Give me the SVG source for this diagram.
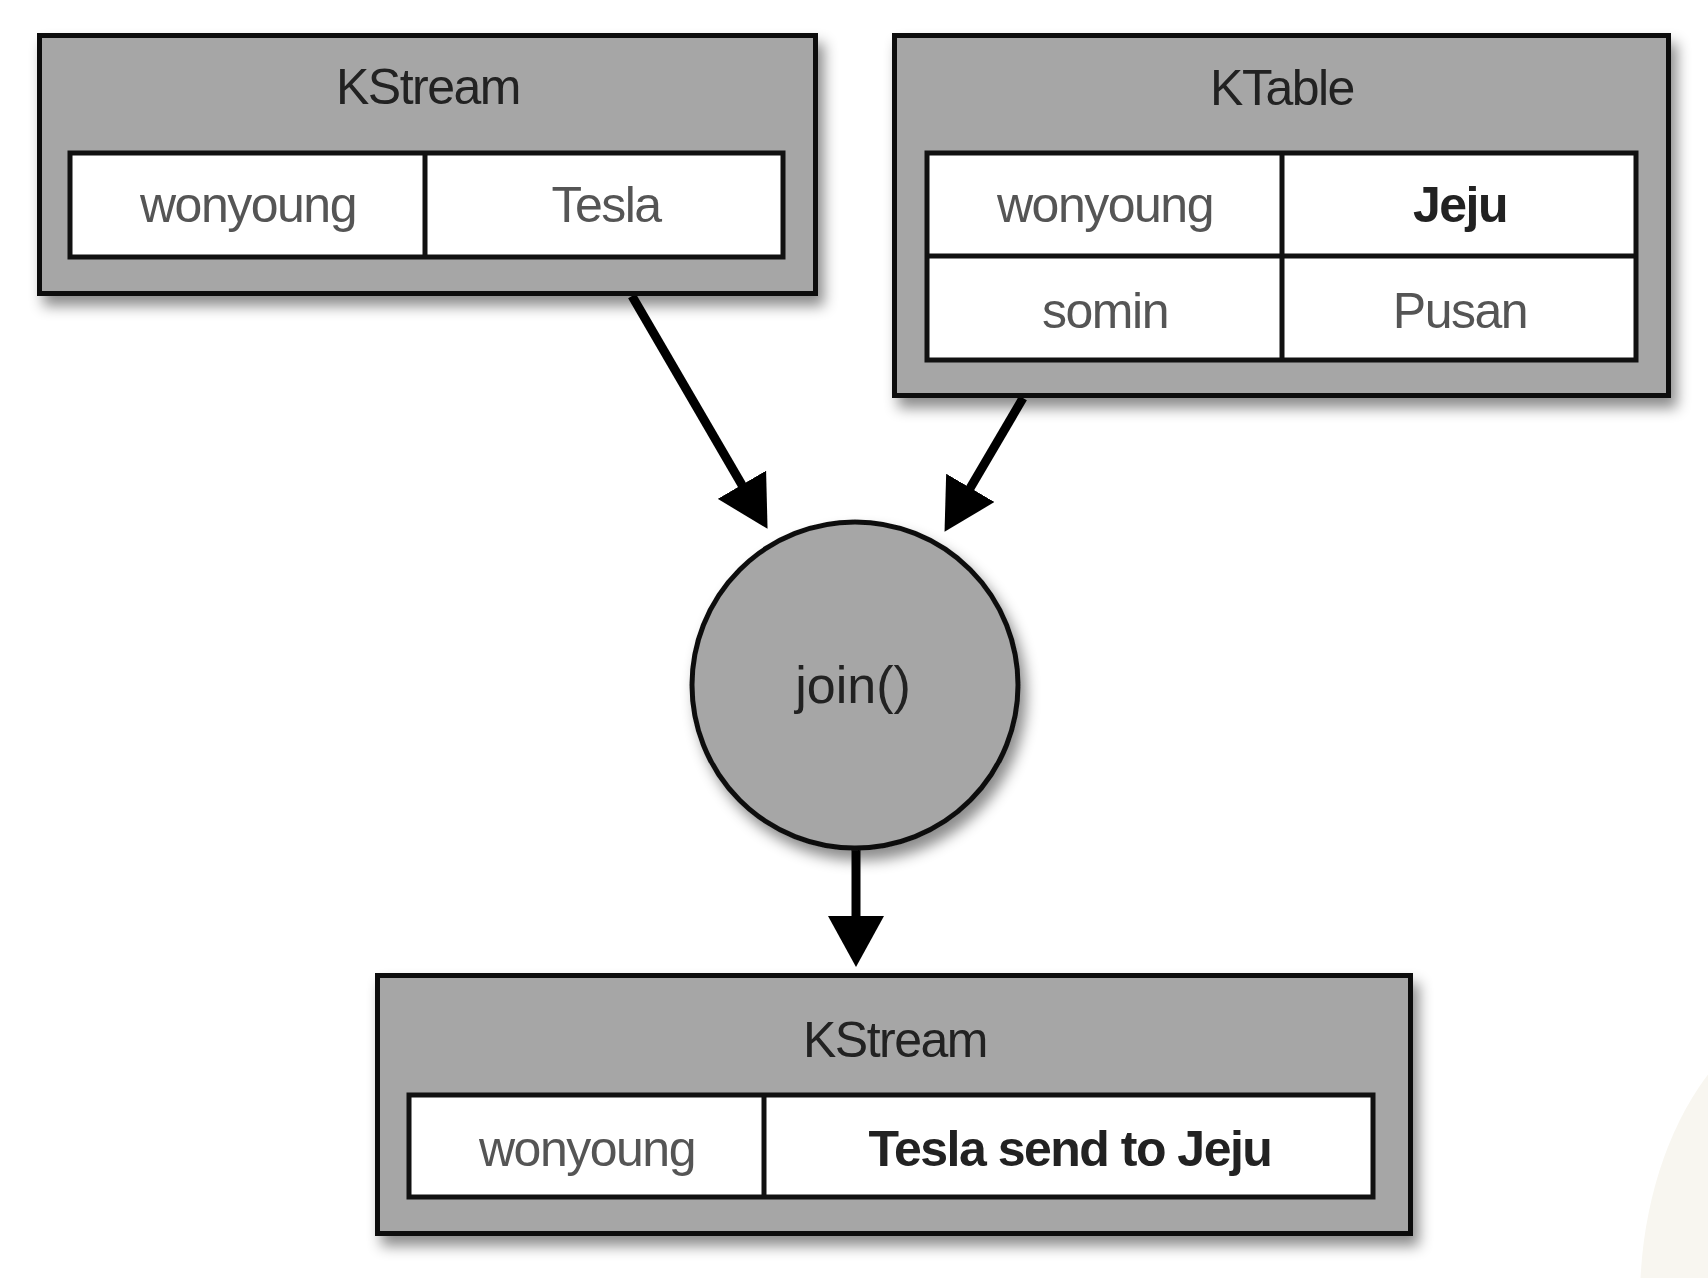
<svg xmlns="http://www.w3.org/2000/svg" width="1708" height="1278" viewBox="0 0 1708 1278">
  <defs>
    <filter id="shadow" x="-10%" y="-10%" width="125%" height="135%">
      <feDropShadow dx="6" dy="10" stdDeviation="7" flood-color="#000" flood-opacity="0.45"/>
    </filter>
    <marker id="arrow" markerUnits="userSpaceOnUse" markerWidth="52" markerHeight="56" refX="4" refY="28" orient="auto">
      <path d="M0,0 L51,28 L0,56 z" fill="#000"/>
    </marker>
  </defs>
  <style>
    .box { fill: #a6a6a6; stroke: #111; stroke-width: 5; }
    .cell { fill: #fff; stroke: #111; stroke-width: 5; }
    .div { stroke: #111; stroke-width: 5; }
    .title { font-family: "Liberation Sans", Arial, sans-serif; font-size: 50px; letter-spacing: -1.5px; fill: #222; text-anchor: middle; }
    .txt { font-family: "Liberation Sans", Arial, sans-serif; font-size: 50px; letter-spacing: -1.5px; fill: #555; text-anchor: middle; }
    .bold { font-family: "Liberation Sans", Arial, sans-serif; font-size: 50px; letter-spacing: -1.5px; font-weight: bold; fill: #222; text-anchor: middle; }
    .edge { stroke: #000; stroke-width: 9; fill: none; marker-end: url(#arrow); }
  </style>
  <rect width="1708" height="1278" fill="#fff"/>
  <ellipse cx="1840" cy="1300" rx="200" ry="300" fill="#f8f6f0"/>

  <g id="connectors">
    <line class="edge" x1="632" y1="296" x2="743.9" y2="488.2"/>
    <line class="edge" x1="1023" y1="398" x2="968.3" y2="491.3"/>
    <line class="edge" x1="856" y1="850" x2="856" y2="920"/>
  </g>

  <g id="kstream-input">
    <rect class="box" x="39.5" y="35.5" width="776" height="258" filter="url(#shadow)"/>
    <text class="title" x="428" y="104">KStream</text>
    <rect class="cell" x="70" y="153" width="713" height="104"/>
    <line class="div" x1="425" y1="153" x2="425" y2="257"/>
    <text class="txt" x="248" y="222">wonyoung</text>
    <text class="txt" x="606" y="222">Tesla</text>
  </g>

  <g id="ktable">
    <rect class="box" x="894.5" y="35.5" width="774" height="360" filter="url(#shadow)"/>
    <text class="title" x="1282" y="105">KTable</text>
    <rect class="cell" x="927" y="153" width="709" height="207"/>
    <line class="div" x1="927" y1="256" x2="1636" y2="256"/>
    <line class="div" x1="1282" y1="153" x2="1282" y2="360"/>
    <text class="txt" x="1105" y="222">wonyoung</text>
    <text class="bold" x="1460" y="222">Jeju</text>
    <text class="txt" x="1105" y="328">somin</text>
    <text class="txt" x="1460" y="328">Pusan</text>
  </g>

  <g id="join">
    <circle cx="855" cy="685" r="163" fill="#a6a6a6" stroke="#111" stroke-width="5" filter="url(#shadow)"/>
    <text class="title" x="853" y="703" style="font-size:52px;letter-spacing:0">join()</text>
  </g>

  <g id="kstream-output">
    <rect class="box" x="377.5" y="975.5" width="1033" height="258" filter="url(#shadow)"/>
    <text class="title" x="895" y="1057">KStream</text>
    <rect class="cell" x="409" y="1095" width="964" height="102"/>
    <line class="div" x1="764" y1="1095" x2="764" y2="1197"/>
    <text class="txt" x="587" y="1166">wonyoung</text>
    <text class="bold" x="1070" y="1166">Tesla send to Jeju</text>
  </g>
</svg>
